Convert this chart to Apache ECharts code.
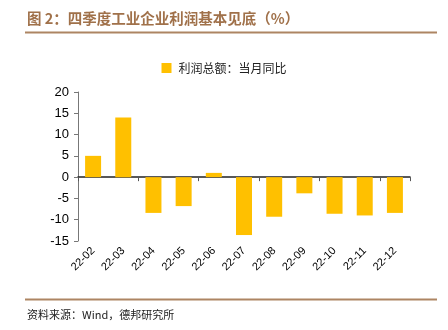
<!DOCTYPE html>
<html><head><meta charset="utf-8">
<script src="https://cdn.jsdelivr.net/npm/echarts@6/dist/echarts.min.js"></script>
<style>html,body{margin:0;padding:0;background:#fff}#c{width:448px;height:330px}</style>
</head><body><div id="c"></div>
<script>
var categories = ['22-02','22-03','22-04','22-05','22-06','22-07','22-08','22-09','22-10','22-11','22-12'];
var profitYoY = [5.0, 14.0, -8.4, -6.8, 1.0, -13.6, -9.3, -3.8, -8.6, -9.0, -8.4];
var seriesName = '利润总额：当月同比';
var titleText = '图 2：四季度工业企业利润基本见底（%）';
var sourceText = '资料来源：Wind，德邦研究所';

var chart = echarts.init(document.getElementById('c'));
var cjk = '"Noto Sans CJK SC", sans-serif';
chart.setOption({
  animation: false,
  textStyle: {fontFamily: 'Arial, "Liberation Sans", sans-serif'},
  graphic: [
    {type: 'text', left: 27, top: 11, style: {text: titleText, fill: '#a0714a', font: 'bold 14.5px "Noto Sans CJK SC", sans-serif'}},
    {type: 'line', shape: {x1: 25, y1: 32.5, x2: 437, y2: 32.5}, style: {stroke: '#ad8563', lineWidth: 2}},
    {type: 'line', shape: {x1: 25, y1: 299.5, x2: 437, y2: 299.5}, style: {stroke: '#ad8563', lineWidth: 2}},
    {type: 'text', left: 27, top: 309, style: {text: sourceText, fill: '#222', font: '11px "Noto Sans CJK SC", sans-serif'}}
  ],
  legend: {
    top: 57, left: 'center',
    itemWidth: 10, itemHeight: 10, itemGap: 5,
    icon: 'rect',
    textStyle: {fontFamily: cjk, fontSize: 12, color: '#222', padding: [0, 0, 0, 2]},
    data: [seriesName]
  },
  grid: {left: 78, right: 38, top: 92, bottom: 89, containLabel: false},
  xAxis: [
    {
      type: 'category', data: categories, position: 'bottom',
      axisLine: {show: false, onZero: false},
      axisTick: {show: false},
      axisLabel: {rotate: 45, fontSize: 11, color: '#000', margin: 8, interval: 0}
    },
    {
      type: 'category', data: categories, position: 'top',
      axisLine: {show: true, onZero: true, lineStyle: {color: '#222', width: 1.5}},
      axisTick: {show: true, inside: true, length: 4, lineStyle: {color: '#555'}},
      axisLabel: {show: false}
    }
  ],
  yAxis: {
    type: 'value', min: -15, max: 20, interval: 5,
    axisLine: {show: true, lineStyle: {color: '#777'}},
    axisTick: {show: true, length: 4, lineStyle: {color: '#777'}},
    splitLine: {show: false},
    axisLabel: {fontSize: 13, color: '#000', margin: 9}
  },
  series: [{
    name: seriesName, type: 'bar', data: profitYoY, barWidth: 16,
    itemStyle: {color: '#FFC000'}
  }]
});
</script></body></html>
